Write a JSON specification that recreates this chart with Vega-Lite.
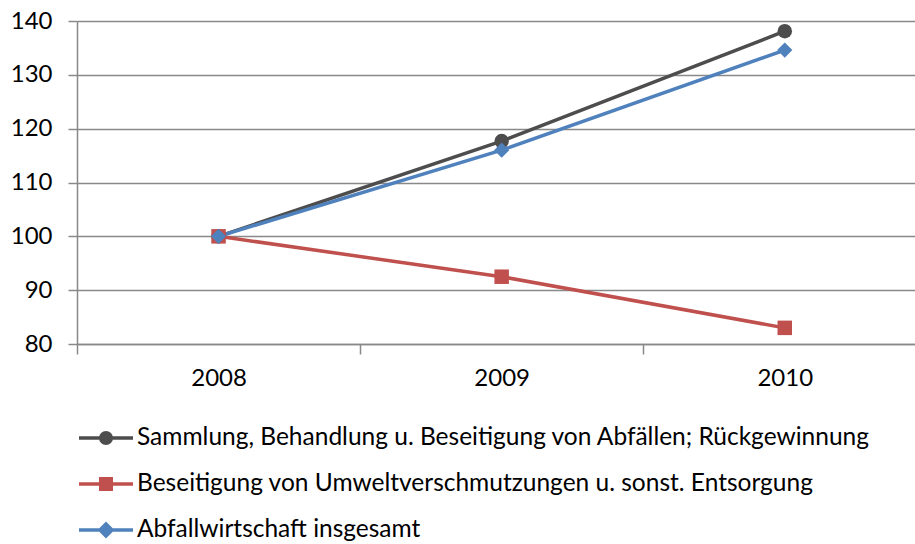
{
  "$schema": "https://vega.github.io/schema/vega-lite/v6.json",
  "autosize": {"type": "none"},
  "width": 838,
  "height": 323,
  "padding": {"left": 77, "top": 21, "right": 0, "bottom": 200},
  "background": "white",
  "config": {
    "view": {"stroke": null},
    "font": "Lato",
    "axis": {"labelFont": "Lato", "labelFontSize": 24, "labelColor": "#000000"},
    "legend": {"labelFont": "Lato", "labelFontSize": 24.5, "labelColor": "#000000"}
  },
  "data": {
    "values": [
      {"series": "Sammlung, Behandlung u. Beseitigung von Abfällen; Rückgewinnung", "year": 2008, "value": 100},
      {"series": "Sammlung, Behandlung u. Beseitigung von Abfällen; Rückgewinnung", "year": 2009, "value": 117.7},
      {"series": "Sammlung, Behandlung u. Beseitigung von Abfällen; Rückgewinnung", "year": 2010, "value": 138.1},
      {"series": "Beseitigung von Umweltverschmutzungen u. sonst. Entsorgung", "year": 2008, "value": 100},
      {"series": "Beseitigung von Umweltverschmutzungen u. sonst. Entsorgung", "year": 2009, "value": 92.5},
      {"series": "Beseitigung von Umweltverschmutzungen u. sonst. Entsorgung", "year": 2010, "value": 83.0},
      {"series": "Abfallwirtschaft insgesamt", "year": 2008, "value": 100},
      {"series": "Abfallwirtschaft insgesamt", "year": 2009, "value": 116.0},
      {"series": "Abfallwirtschaft insgesamt", "year": 2010, "value": 134.6}
    ]
  },
  "encoding": {
    "x": {
      "field": "year", "type": "quantitative",
      "scale": {"domain": [2007.5, 2010.46], "nice": false, "zero": false},
      "axis": {
        "title": null,
        "values": [2007.5, 2008, 2008.5, 2009, 2009.5, 2010],
        "labelExpr": "datum.value % 1 === 0 ? format(datum.value, 'd') : ''",
        "grid": false,
        "domain": true, "domainColor": "#898989", "domainWidth": 1.5,
        "ticks": true, "tickSize": 10, "tickColor": "#898989", "tickWidth": 1.5,
        "tickOpacity": {"condition": {"test": "datum.value % 1 === 0", "value": 0}, "value": 1},
        "labelPadding": 12,
        "labelFlush": false
      }
    },
    "y": {
      "field": "value", "type": "quantitative",
      "scale": {"domain": [80, 140], "nice": false, "zero": false},
      "axis": {
        "title": null,
        "values": [80, 90, 100, 110, 120, 130, 140],
        "grid": true, "gridColor": "#898989", "gridWidth": 1.5,
        "domain": true, "domainColor": "#898989", "domainWidth": 1.5,
        "tickSize": 9, "tickColor": "#898989", "tickWidth": 1.5,
        "labelPadding": 16
      }
    },
    "color": {
      "field": "series", "type": "nominal",
      "sort": ["Sammlung, Behandlung u. Beseitigung von Abfällen; Rückgewinnung", "Beseitigung von Umweltverschmutzungen u. sonst. Entsorgung", "Abfallwirtschaft insgesamt"],
      "scale": {
        "domain": ["Sammlung, Behandlung u. Beseitigung von Abfällen; Rückgewinnung", "Beseitigung von Umweltverschmutzungen u. sonst. Entsorgung", "Abfallwirtschaft insgesamt"],
        "range": ["#4d4d4d", "#c0504d", "#4f81bd"]
      },
      "legend": {
        "title": null,
        "orient": "none",
        "legendX": 12,
        "legendY": 400,
        "direction": "vertical",
        "rowPadding": 16,
        "symbolSize": 900,
        "symbolStrokeWidth": 3.5,
        "labelOffset": 14,
        "labelLimit": 900,
        "encode": {
          "symbols": {
            "update": {
              "shape": {"signal": "datum.index === 0 ? 'M-1.8,0H1.8M0.35,0A0.35,0.35,0,1,1,-0.35,0A0.35,0.35,0,1,1,0.35,0Z' : (datum.index === 1 ? 'M-1.8,0H1.8M-0.35,-0.35H0.35V0.35H-0.35Z' : 'M-1.8,0H1.8M0,-0.4L0.4,0L0,0.4L-0.4,0Z')"},
              "fill": {"scale": "color", "field": "value"},
              "stroke": {"scale": "color", "field": "value"},
              "strokeWidth": {"value": 3.5},
              "opacity": {"value": 1},
              "fillOpacity": {"value": 1}
            }
          }
        }
      }
    }
  },
  "layer": [
    {
      "mark": {"type": "line", "strokeWidth": 3.5}
    },
    {
      "transform": [{"filter": "datum.series === 'Sammlung, Behandlung u. Beseitigung von Abfällen; Rückgewinnung'"}],
      "mark": {"type": "point", "shape": "circle", "filled": true, "opacity": 1, "size": 210}
    },
    {
      "transform": [{"filter": "datum.series === 'Beseitigung von Umweltverschmutzungen u. sonst. Entsorgung'"}],
      "mark": {"type": "point", "shape": "square", "filled": true, "opacity": 1, "size": 210}
    },
    {
      "transform": [{"filter": "datum.series === 'Abfallwirtschaft insgesamt'"}],
      "mark": {"type": "point", "shape": "diamond", "filled": true, "opacity": 1, "size": 230}
    }
  ]
}
